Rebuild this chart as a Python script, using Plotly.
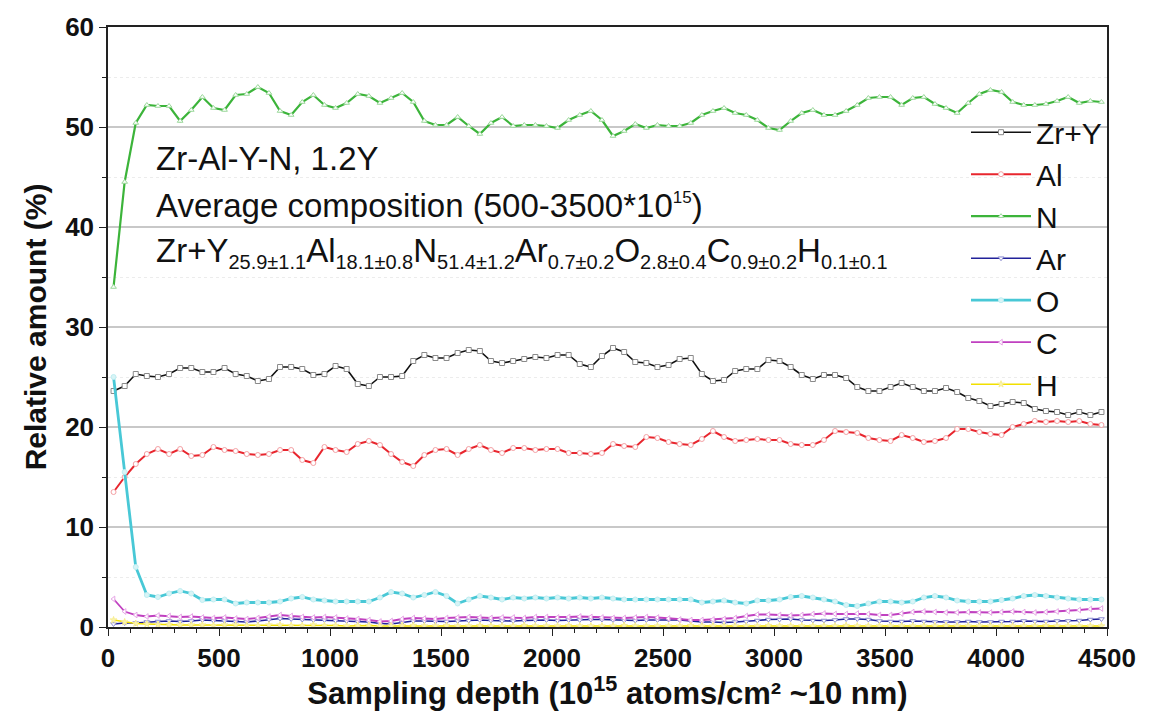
import plotly.graph_objects as go

# ---------------- data ----------------
depth = list(range(25, 4500, 50))  # sampling depth (10^15 atoms/cm2), 90 points

zr_y = [23.6, 24.1, 25.3, 25.1, 25.0, 25.3, 25.9, 25.9, 25.5, 25.5,
        25.9, 25.3, 25.1, 24.6, 24.8, 26.0, 26.0, 25.8, 25.2, 25.3,
        26.1, 25.8, 24.3, 24.1, 25.0, 25.0, 25.1, 26.6, 27.2, 26.9,
        26.9, 27.4, 27.7, 27.6, 26.6, 26.4, 26.6, 26.8, 27.0, 26.9,
        27.2, 27.2, 26.3, 26.0, 27.1,
        27.9, 27.5, 26.5, 26.4, 26.0, 26.2, 26.8, 26.9, 25.3, 24.6,
        24.7, 25.6, 25.8, 25.8, 26.7, 26.6, 26.0, 25.2, 24.8, 25.2,
        25.2, 24.9, 24.0, 23.6, 23.6, 24.0, 24.4, 24.0, 23.6, 23.6,
        23.9, 23.5, 22.9, 22.6, 22.1, 22.3, 22.5, 22.4, 21.8, 21.6,
        21.5, 21.2, 21.5, 21.2, 21.5]

al = [13.5,
      15.0, 16.3, 17.3, 17.8, 17.3, 17.8, 17.1, 17.2, 18.0, 17.7,
      17.6, 17.3, 17.2, 17.3, 17.7, 17.7, 16.7, 16.4, 18.0, 17.7,
      17.5, 18.3, 18.6, 18.2, 17.3, 16.5, 16.1, 17.2, 17.7, 17.8,
      17.2, 17.8, 18.2, 17.7, 17.4, 17.9, 17.9, 17.7, 17.8, 17.8,
      17.4, 17.4, 17.3, 17.4, 18.3,
      18.1, 18.0, 19.0, 18.9, 18.5, 18.3, 18.2, 18.8, 19.6, 19.0,
      18.6, 18.7, 18.8, 18.7, 18.7, 18.3, 18.2, 18.2, 18.7, 19.6,
      19.5, 19.4, 18.9, 18.7, 18.6, 19.2, 18.9, 18.5, 18.6, 18.9,
      19.8, 19.8, 19.5, 19.3, 19.2, 20.0, 20.3, 20.6, 20.5, 20.6,
      20.5, 20.6, 20.3, 20.2]

n = [34.0, 44.5, 50.4,
     52.2, 52.1, 52.1, 50.6, 51.7, 53.0, 51.9, 51.7, 53.2, 53.3,
     54.0, 53.4, 51.6, 51.2, 52.5, 53.2, 52.2, 51.9, 52.4, 53.3,
     53.1, 52.4, 52.9, 53.4, 52.5, 50.6, 50.2, 50.2, 51.0, 50.1,
     49.3, 50.4, 51.0, 50.1, 50.2, 50.2, 50.1, 49.9, 50.7, 51.2,
     51.6, 50.7, 49.1,
     49.6, 50.3, 49.9, 50.2, 50.1, 50.1, 50.4, 51.2, 51.6, 51.9,
     51.4, 51.2, 50.7, 49.9, 49.7, 50.6, 51.4, 51.7, 51.2, 51.2,
     51.6, 52.2, 52.9, 53.0, 53.0, 52.2, 52.9, 53.0, 52.3, 51.9,
     51.4, 52.4, 53.3, 53.7, 53.5, 52.5, 52.2, 52.2, 52.3, 52.6,
     53.0, 52.4, 52.6, 52.5]

ar = [0.3, 0.4, 0.4, 0.5, 0.55, 0.6, 0.55, 0.6, 0.7, 0.65,
      0.6, 0.55, 0.5, 0.6, 0.75, 0.85, 0.8, 0.75, 0.7, 0.7,
      0.65, 0.6, 0.55, 0.5, 0.35, 0.3, 0.45, 0.6, 0.6, 0.55,
      0.55, 0.6, 0.65, 0.7, 0.65, 0.6, 0.6, 0.65, 0.7, 0.7,
      0.65, 0.7, 0.7, 0.75, 0.75, 0.7,
      0.65, 0.65, 0.7, 0.7, 0.75, 0.7, 0.6, 0.5, 0.5, 0.45,
      0.5, 0.55, 0.65, 0.75, 0.75, 0.8, 0.7, 0.65, 0.65, 0.7,
      0.8, 0.8, 0.75, 0.6, 0.55, 0.55, 0.6, 0.55, 0.5, 0.5,
      0.5, 0.55, 0.5, 0.5, 0.55, 0.55, 0.6, 0.55, 0.55, 0.6,
      0.6, 0.65, 0.75, 0.8]

o = [25.0, 15.5, 6.0,
     3.2, 3.0, 3.35, 3.6, 3.35, 2.7, 2.75, 2.75, 2.35, 2.45,
     2.45, 2.45, 2.55, 2.85, 3.0, 2.75, 2.65, 2.55, 2.55, 2.55,
     2.55, 2.95, 3.5, 3.35, 2.95, 3.2, 3.5, 3.1, 2.35, 2.75,
     3.1, 2.95, 2.75, 2.95, 2.85, 2.95, 2.85, 2.95, 2.85, 2.95,
     2.85, 2.95, 2.85,
     2.75, 2.75, 2.75, 2.75, 2.75, 2.75, 2.75, 2.45, 2.55, 2.65,
     2.45, 2.35, 2.65, 2.65, 2.75, 3.0, 3.1, 2.95, 2.75, 2.55,
     2.2, 2.1, 2.35, 2.55, 2.55, 2.45, 2.55, 2.95, 3.1, 2.95,
     2.65, 2.55, 2.55, 2.55, 2.7, 2.85, 3.1, 3.2, 3.1, 2.95,
     2.85, 2.75, 2.75, 2.75]

c = [2.8, 1.55, 1.2,
     1.05, 1.15, 1.1, 1.0, 1.05, 0.95, 0.9, 0.95, 0.85, 0.8,
     0.9, 1.05, 1.2, 1.1, 1.0, 0.95, 1.0, 0.95, 0.85, 0.8,
     0.7, 0.55, 0.6, 0.8, 0.9, 0.85, 0.8, 0.9, 0.95, 1.0,
     0.95, 0.9, 0.95, 0.95, 0.9, 1.0, 1.0, 0.95, 1.0, 1.05,
     1.0, 0.95, 0.9,
     0.9, 0.95, 1.0, 0.95, 0.85, 0.75, 0.7, 0.7, 0.75, 0.8,
     0.9, 1.1, 1.25, 1.25, 1.2, 1.15, 1.2, 1.3, 1.35, 1.3,
     1.3, 1.35, 1.3, 1.2, 1.2, 1.35, 1.5, 1.55, 1.5, 1.45,
     1.45, 1.5, 1.45, 1.45, 1.5, 1.55, 1.5, 1.45, 1.5, 1.55,
     1.6, 1.7, 1.8, 1.85]

h = [0.7, 0.5, 0.35,
     0.3, 0.25, 0.25, 0.2, 0.2, 0.2, 0.15, 0.2, 0.2, 0.15,
     0.15, 0.2, 0.2, 0.15, 0.15, 0.2, 0.15, 0.15, 0.1, 0.15,
     0.15, 0.1, 0.1, 0.15, 0.15, 0.1, 0.1, 0.15, 0.1, 0.1,
     0.15, 0.1, 0.1, 0.1, 0.15, 0.1, 0.1, 0.1, 0.15, 0.1,
     0.1, 0.1, 0.1, 0.15, 0.1, 0.1, 0.1, 0.1, 0.1, 0.15,
     0.1, 0.1, 0.1, 0.1, 0.1, 0.1, 0.15, 0.1, 0.1, 0.1,
     0.1, 0.1, 0.1, 0.15, 0.1, 0.1, 0.1, 0.1, 0.1, 0.1,
     0.1, 0.1, 0.15, 0.1, 0.1, 0.1, 0.1, 0.1, 0.1, 0.1,
     0.1, 0.15, 0.1, 0.1, 0.1, 0.1, 0.1]

series_names = ["Zr+Y", "Al", "N", "Ar", "O", "C", "H"]
series_values = [zr_y, al, n, ar, o, c, h]
avg_text = ["25.9±1.1", "18.1±0.8", "51.4±1.2", "0.7±0.2", "2.8±0.4", "0.9±0.2", "0.1±0.1"]
line_colors = ["#111111", "#e8262e", "#3cb43a", "#22229a", "#48c8d6", "#c040c0", "#f2e000"]
marker_edge = ["#8a8a8a", "#f4a0a4", "#9ad89a", "#8a8ad0", "#bfeef2", "#e6a6e6", "#f8ee90"]
marker_fill = ["white", "white", "white", "white", "#d8f4f6", "white", "#fbf3b0"]
marker_symbols = ["square", "circle", "triangle-up", "triangle-down", "circle", "triangle-left", "star"]
line_widths = [1.6, 2.0, 2.2, 1.6, 2.8, 1.8, 1.6]

x_ticks = [0, 500, 1000, 1500, 2000, 2500, 3000, 3500, 4000, 4500]
y_ticks = [0, 10, 20, 30, 40, 50, 60]

FONT = "Liberation Sans, Arial, Helvetica, sans-serif"

fig = go.Figure()
for name, vals, lc, me, mf, ms, lw in zip(series_names, series_values, line_colors,
                                          marker_edge, marker_fill, marker_symbols, line_widths):
    fig.add_trace(go.Scatter(
        x=depth, y=vals, name=name, mode="lines+markers",
        line=dict(color=lc, width=lw),
        marker=dict(symbol=ms, size=5, color=mf, line=dict(color=me, width=1)),
    ))

formula = "".join(
    f'{nm}<sub><span style="font-size:20px">{av}</span></sub>'
    for nm, av in zip(series_names, avg_text)
)
annotation_lines = [
    "Zr-Al-Y-N, 1.2Y",
    'Average composition (500-3500*10<sup><span style="font-size:17px">15</span></sup>)',
    formula,
]
annotation_y = [0.781, 0.703, 0.624]
for txt, yy in zip(annotation_lines, annotation_y):
    fig.add_annotation(text=txt, xref="paper", yref="paper", x=0.046, y=yy,
                       xanchor="left", yanchor="middle", showarrow=False,
                       font=dict(family=FONT, size=33, color="#111111"))

axis_common = dict(
    showline=True, linecolor="#222222", linewidth=1.5, mirror=True,
    ticks="outside", ticklen=7, tickwidth=1.3, tickcolor="#222222",
    tickfont=dict(family=FONT, size=26, color="#111111", weight="bold"),
    zeroline=False,
)

fig.update_xaxes(
    range=[0, 4500], tickvals=x_ticks, ticktext=[str(t) for t in x_ticks],
    showgrid=False,
    minor=dict(dtick=100, ticks="outside", ticklen=4, tickcolor="#222222", showgrid=False),
    title=dict(text="Sampling depth (10<sup>15</sup> atoms/cm² ~10 nm)", standoff=2,
               font=dict(family=FONT, size=31, color="#111111", weight="bold")),
    **axis_common,
)
fig.update_yaxes(
    range=[0, 60], tickvals=y_ticks, ticktext=[str(t) for t in y_ticks],
    showgrid=True, gridcolor="#c8c8c8", gridwidth=1.5,
    minor=dict(dtick=5, ticks="outside", ticklen=4, tickcolor="#222222",
               showgrid=True, gridcolor="#ececec", griddash="dot", gridwidth=1),
    title=dict(text="Relative amount (%)", standoff=10,
               font=dict(family=FONT, size=30, color="#111111", weight="bold")),
    **axis_common,
)

fig.update_layout(
    width=1149, height=711,
    margin=dict(l=108, r=42, t=25, b=84),
    paper_bgcolor="white", plot_bgcolor="white",
    font=dict(family=FONT, color="#111111"),
    legend=dict(x=1.0, xanchor="right", y=0.868, yanchor="top",
                bgcolor="rgba(0,0,0,0)", borderwidth=0,
                font=dict(family=FONT, size=30, color="#111111"),
                itemwidth=60),
    showlegend=True,
)

fig.write_html("out.html")
